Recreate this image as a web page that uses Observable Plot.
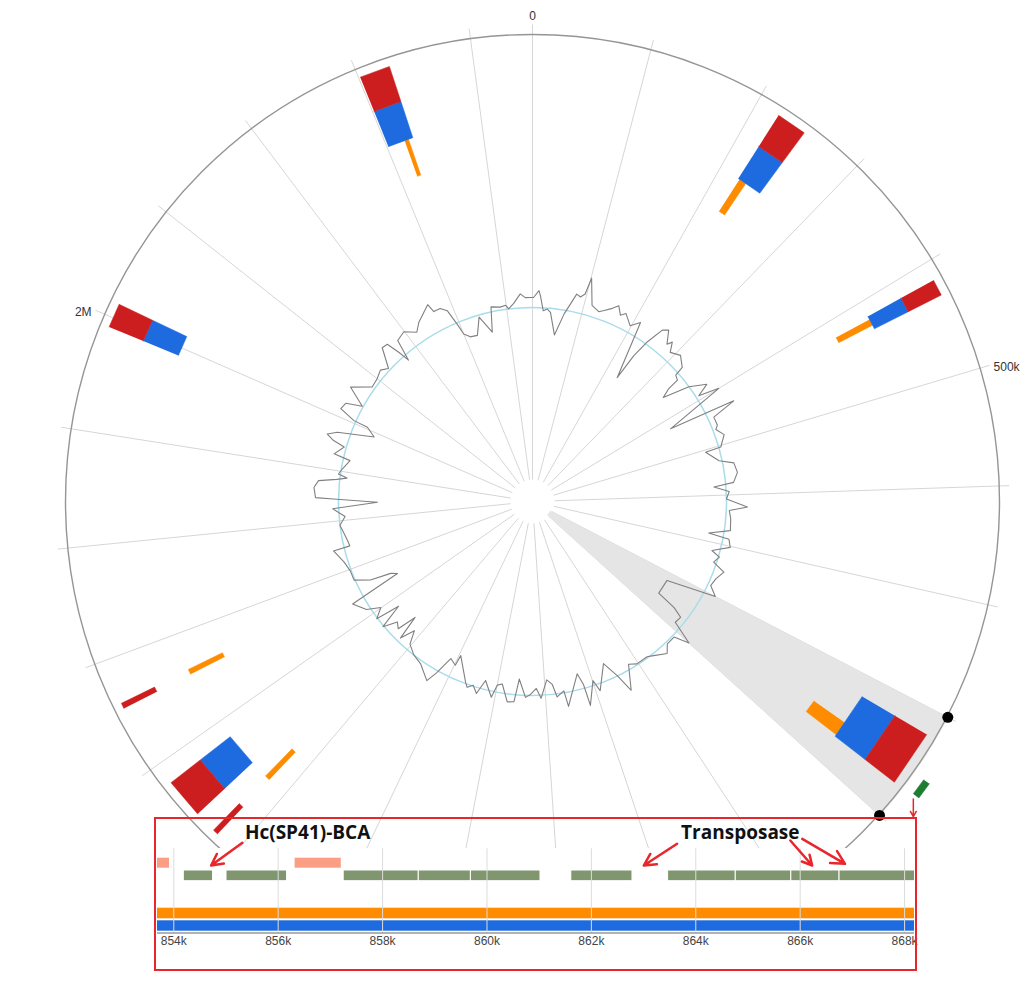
<!DOCTYPE html>
<html><head><meta charset="utf-8">
<script src="https://cdn.jsdelivr.net/npm/d3@7"></script>
<script src="https://cdn.jsdelivr.net/npm/@observablehq/plot@0.6"></script>
<style>
body{margin:0;background:#fff;}
#wrap{position:relative;width:1025px;height:982px;overflow:hidden;background:#fff;}
#main,#inset,#insetBg,#insetBorder,#belowBg{position:absolute;}
#main{left:0;top:0;}
#insetBg{left:155px;top:848px;width:761px;height:122px;background:#fff;}
#belowBg{left:0;top:971px;width:1025px;height:11px;background:#fff;}
#inset{left:155px;top:818px;}
#insetBorder{left:154px;top:817px;width:763px;height:154px;border:2px solid #e8262c;box-sizing:border-box;pointer-events:none;}
</style></head>
<body><div id="wrap"><div id="main"></div><div id="insetBg"></div><div id="belowBg"></div><div id="inset"></div><div id="insetBorder"></div></div>
<script>
// ---------------- data ----------------
const genomeLength = 2452000;
const tickStep = 100000;
const labelStep = 500000;
const tickLabels = ["0", "500k", "1M", "1.5M", "2M"];
const zoomRegion = [800000, 900000];

// genomic islands [start, end] (bp) per prediction method
const redIslands = [[221400, 247900], [416200, 430500], [821400, 870500], [1521900, 1526700], [1546000, 1581000], [1656100, 1660900], [1991600, 2012700], [2301500, 2328000]];
const blueIslands = [[221400, 247900], [416200, 430500], [821400, 870500], [1546000, 1581000], [1991600, 2012700], [2301500, 2328000]];
const orangeIslands = [[223000, 230500], [419800, 426300], [853500, 868500], [1521600, 1527000], [1656500, 1661900], [2319100, 2323300]];

// GC content (%) along the genome (position in kb)
const gcPosKb = [2,12,15,22,30,37,51,65,82,90,97,101,115,131,140,153,162,172,180,198,212,234,237,243,253,262,276,281,291,309,328,331,341,343,351,366,382,392,400,424,432,443,460,467,482,503,505,529,539,558,576,582,593,608,623,631,647,670,682,687,702,717,726,739,751,769,785,800,820,858,864,872,887,900,911,930,943,966,978,1003,1018,1038,1049,1065,1092,1099,1118,1120,1127,1158,1162,1177,1184,1195,1209,1218,1230,1240,1255,1262,1275,1290,1300,1307,1326,1337,1348,1358,1364,1396,1398,1413,1419,1425,1434,1462,1483,1503,1515,1526,1535,1543,1555,1567,1580,1587,1601,1614,1637,1648,1656,1663,1677,1697,1718,1744,1746,1758,1791,1808,1825,1837,1844,1846,1864,1877,1883,1888,1894,1905,1925,1931,1949,1955,1963,1972,1990,2004,2005,2015,2028,2038,2058,2081,2100,2117,2130,2150,2161,2167,2171,2180,2199,2218,2231,2261,2265,2278,2288,2295,2300,2311,2327,2342,2361,2370,2388,2399,2404,2415,2429,2438,2448];
const gcPercent = [39.5,40.2,39.7,38.2,38.4,38.1,35.9,38.1,40.3,40.1,40.5,42.2,39.6,39.2,39.5,40.0,40.5,39.7,40.1,39.2,40.0,34.1,36.9,38.7,40.6,41.0,39.8,40.3,39.4,39.9,39.2,38.2,38.0,36.8,35.8,38.5,40.1,38.8,40.9,34.7,41.6,39.1,39.1,38.8,39.4,38.7,37.1,38.2,39.6,39.8,39.3,37.3,38.8,38.5,40.6,38.8,39.0,39.1,37.0,39.1,39.4,37.7,38.6,38.2,39.5,39.0,38.8,39.7,34.7,34.7,36.8,37.9,37.8,40.2,38.7,38.7,39.4,38.7,38.4,38.4,38.0,40.4,38.5,36.8,39.2,38.0,40.3,38.1,36.9,39.9,38.3,38.8,37.5,37.0,38.8,37.8,38.4,38.7,36.9,39.2,39.3,37.6,37.8,39.1,37.6,39.1,38.4,38.8,38.4,36.1,37.2,36.8,37.7,38.7,39.9,38.8,38.5,37.9,36.6,38.1,35.6,37.6,37.2,38.6,36.1,38.6,37.6,38.9,39.8,34.4,35.0,37.1,38.6,38.6,38.9,39.6,37.9,38.0,38.5,37.9,39.1,34.6,39.0,40.8,41.0,40.6,38.8,37.8,38.7,38.4,37.8,39.5,38.7,39.9,40.7,39.8,36.2,37.2,38.7,40.4,40.2,38.6,40.6,38.8,38.9,39.2,38.7,40.6,40.5,39.1,37.9,40.1,40.4,39.6,40.3,41.4,40.5,40.5,40.0,38.4,37.2,36.7,36.6,38.3,36.5,39.0,38.8,38.9,38.5,39.0,39.9,39.5,39.5];
const gcMean = 38.5;

// genes in the zoomed window (bp)
const greenGenes = [[854192, 854753], [855010, 856171], [857255, 858693], [858693, 859692], [859692, 861025], [861615, 862787], [863470, 864766], [864766, 865830], [865830, 866754], [866754, 868400]];
const salmonGenes = [[853500, 853918], [856324, 857209]];
const insetDomain = [853688, 868190];
const insetTicks = [854000, 856000, 858000, 860000, 862000, 864000, 866000, 868000];
const insetLabels = [{text: "Hc(SP41)-BCA", pos: 855362}, {text: "Transposase", pos: 863719}];
const insetArrows = [
  {from: 855314, fromY: 24.3, to: 854715, toY: 47},
  {from: 863642, fromY: 25.3, to: 863004, toY: 47},
  {from: 865811, fromY: 22, to: 866230, toY: 47},
  {from: 866040, fromY: 20.3, to: 866859, toY: 45.3}
];
const zoomArrowPos = 870500;

// ---------------- layout ----------------
const W = 1025, H = 982, CX = 532, CY = 501;
const R = {hub: 22, wedgeIn: 20, circle: 467, spokeEnd: 477, label: 478, red: [421, 458], blue: [383, 421], orange: [345, 383], genes: [480, 487]};
const colors = {red: "#cc1e1e", blue: "#1e6be0", orange: "#ff8c00", gc: "#808080", base: "#a9dcea", spoke: "#d6d6d6", ring: "#959595", wedge: "#e5e5e5", geneMain: "#1e7d32", annot: "#e8262c"};

const ang = d3.scaleLinear().domain([0, genomeLength]).range([0, 2 * Math.PI]);
const gcR = d3.scaleLinear().domain([gcMean, gcMean + 1]).range([194, 204]);
const px = (p, r) => CX + r * Math.sin(ang(p));
const py = (p, r) => CY - r * Math.cos(ang(p));

function blockPolys(list, [r0, r1], key) {
  return list.flatMap(([s, e], i) => [[s, r0], [e, r0], [e, r1], [s, r1]].map(([p, r]) => ({id: key + i, x: px(p, r), y: py(p, r)})));
}
const wedgeSteps = d3.range(zoomRegion[0], zoomRegion[1] + 1, 2500);
const wedge = [...wedgeSteps.map(p => ({x: px(p, R.circle + 1), y: py(p, R.circle + 1)})),
  ...wedgeSteps.slice().reverse().map(p => ({x: px(p, R.wedgeIn), y: py(p, R.wedgeIn)}))];

const gcData = gcPosKb.map((k, i) => ({p: k * 1000, gc: gcPercent[i]}));
gcData.push({p: gcData[0].p + genomeLength, gc: gcData[0].gc});

const spokes = d3.range(0, genomeLength, tickStep);
const labels = d3.range(0, genomeLength, labelStep).map((p, i) => ({p, label: tickLabels[i]}));
const deg = p => p / genomeLength * 360;
const topLabels = labels.filter(d => deg(d.p) < 5 || deg(d.p) > 355);
const rightLabels = labels.filter(d => deg(d.p) >= 5 && deg(d.p) < 180);
const leftLabels = labels.filter(d => deg(d.p) >= 180 && deg(d.p) <= 355);
const geneSpan = [[d3.min(greenGenes, d => d[0]), d3.max(greenGenes, d => d[1])]];

const main = Plot.plot({
  width: W, height: H, margin: 0,
  style: {background: "white", fontFamily: "Liberation Sans, Arial, sans-serif", fontSize: "12px", color: "#333"},
  x: {type: "linear", domain: [0, W], range: [0, W], axis: null},
  y: {type: "linear", domain: [0, H], range: [0, H], axis: null},
  marks: [
    Plot.link(spokes, {x1: p => px(p, R.hub), y1: p => py(p, R.hub), x2: p => px(p, R.spokeEnd), y2: p => py(p, R.spokeEnd), stroke: colors.spoke, strokeWidth: 1}),
    Plot.line(wedge, {x: "x", y: "y", fill: colors.wedge, stroke: colors.wedge, strokeWidth: 0.5}),
    Plot.dot([0], {x: () => CX, y: () => CY, r: R.circle, fill: "none", stroke: colors.ring, strokeWidth: 1.4}),
    Plot.dot([0], {x: () => CX, y: () => CY, r: gcR(gcMean), fill: "none", stroke: colors.base, strokeWidth: 1.5}),
    Plot.line(gcData, {x: d => px(d.p, gcR(d.gc)), y: d => py(d.p, gcR(d.gc)), stroke: colors.gc, strokeWidth: 1.1}),
    Plot.line(blockPolys(orangeIslands, R.orange, "o"), {x: "x", y: "y", z: "id", fill: colors.orange, stroke: colors.orange, strokeWidth: 0.5}),
    Plot.line(blockPolys(blueIslands, R.blue, "b"), {x: "x", y: "y", z: "id", fill: colors.blue, stroke: colors.blue, strokeWidth: 0.5}),
    Plot.line(blockPolys(redIslands, R.red, "r"), {x: "x", y: "y", z: "id", fill: colors.red, stroke: colors.red, strokeWidth: 0.5}),
    Plot.line(blockPolys(geneSpan, R.genes, "g"), {x: "x", y: "y", z: "id", fill: colors.geneMain, stroke: colors.geneMain, strokeWidth: 0.5}),
    Plot.dot(zoomRegion, {x: p => px(p, R.circle + 1), y: p => py(p, R.circle + 1), r: 5.5, fill: "black"}),
    Plot.text(topLabels, {x: d => px(d.p, R.label + 7), y: d => py(d.p, R.label + 7), text: "label", textAnchor: "middle", fill: "#333", fontSize: 12}),
    Plot.text(rightLabels, {x: d => px(d.p, R.label), y: d => py(d.p, R.label), text: "label", textAnchor: "start", dx: 3, dy: 2, fill: "#333", fontSize: 12}),
    Plot.text(leftLabels, {x: d => px(d.p, R.label), y: d => py(d.p, R.label), text: "label", textAnchor: "end", dx: -3, dy: 2, fill: "#333", fontSize: 12}),
    Plot.arrow([zoomArrowPos], {x1: p => px(p, 482), y1: p => py(p, 482) + 2, x2: p => px(p, 482), y2: () => 816, stroke: colors.annot, strokeWidth: 1.5, headLength: 6, headAngle: 60, inset: 0})
  ]
});
document.getElementById("main").appendChild(main);

// ---------------- inset ----------------
const track = {salmon: [39.7, 49.7], green: [52, 62.7], orange: [89.7, 100.3], blue: [102.3, 112.7]};
const inset = Plot.plot({
  width: 761, height: 152, marginLeft: 2, marginRight: 2, marginTop: 0, marginBottom: 37.5,
  style: {background: "transparent", overflow: "visible", fontFamily: "Liberation Sans, Arial, sans-serif", fontSize: "12px"},
  x: {domain: insetDomain},
  y: {domain: [0, 114.5], range: [0, 114.5], axis: null},
  marks: [
    Plot.rect(salmonGenes, {x1: d => d[0], x2: d => d[1], y1: () => track.salmon[0], y2: () => track.salmon[1], fill: "#fa9e86", clip: true}),
    Plot.rect(greenGenes, {x1: d => d[0], x2: d => d[1], y1: () => track.green[0], y2: () => track.green[1], fill: "#7f966e", stroke: "white", strokeWidth: 1, clip: true}),
    Plot.rect(orangeIslands, {x1: d => d[0], x2: d => d[1], y1: () => track.orange[0], y2: () => track.orange[1], fill: colors.orange, clip: true}),
    Plot.rect(blueIslands, {x1: d => d[0], x2: d => d[1], y1: () => track.blue[0], y2: () => track.blue[1], fill: colors.blue, clip: true}),
    Plot.ruleX(insetTicks, {y1: () => 30.3, y2: () => 114.5, stroke: "#dcdcdc", strokeWidth: 1}),
    Plot.ruleY([114.5], {stroke: "#666", strokeWidth: 1}),
    Plot.axisX(insetTicks, {tickFormat: d => `${d / 1000}k`, tickSize: 0, tickPadding: 3.5, fontSize: 12, color: "#444", label: null}),
    Plot.text(insetLabels, {x: "pos", y: () => 14, text: "text", textAnchor: "start", fontSize: 19, fontWeight: "bold", fontFamily: "Open Sans", fill: "#111"}),
    Plot.arrow(insetArrows, {x1: "from", y1: "fromY", x2: "to", y2: "toY", stroke: colors.annot, strokeWidth: 2.5, headLength: 9, headAngle: 55, inset: 0})
  ]
});
document.getElementById("inset").appendChild(inset);
</script>
</body></html>
